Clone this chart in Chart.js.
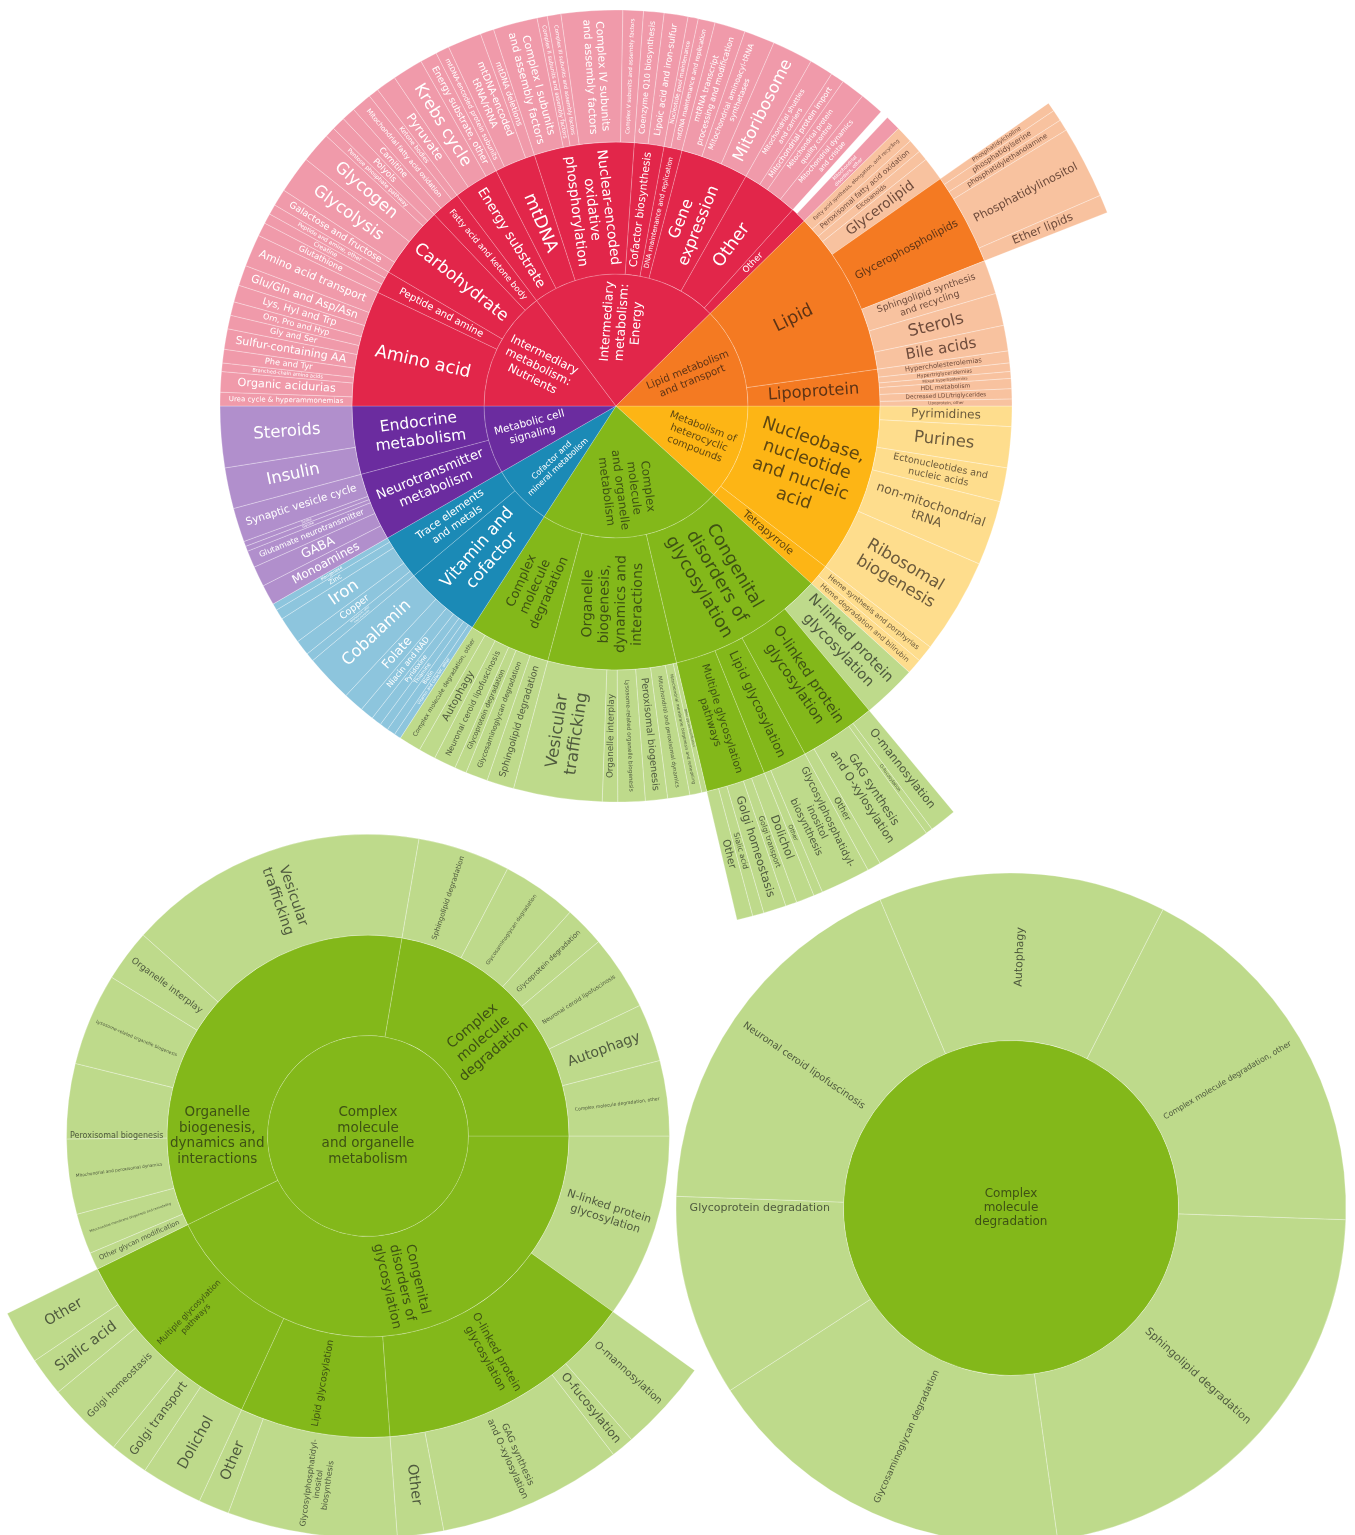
<!DOCTYPE html>
<html>
<head>
<meta charset="utf-8">
<script src="https://cdn.jsdelivr.net/npm/chart.js@4.4.1/dist/chart.umd.min.js"></script>
<style>
  html, body { margin: 0; padding: 0; background: #fff; overflow: hidden; }
  #page { position: relative; width: 1355px; height: 1535px; overflow: hidden; }
  canvas { position: absolute; }
</style>
</head>
<body>
<div id="page">
  <canvas id="main" width="1060" height="1060" style="left:86px;top:-124px"></canvas>
  <canvas id="organelle" width="810" height="810" style="left:-37px;top:731px"></canvas>
  <canvas id="degradation" width="680" height="680" style="left:671px;top:868px"></canvas>
</div>
<script>
// number of disorders per node (clockwise from 3 o'clock)
const groupNames = [
  'Metabolism of\nheterocyclic\ncompounds',
  'Complex\nmolecule\nand organelle\nmetabolism',
  'Cofactor and\nmineral metabolism',
  'Metabolic cell\nsignaling',
  'Intermediary\nmetabolism:\nNutrients',
  'Intermediary\nmetabolism:\nEnergy',
  'Lipid metabolism\nand transport'
];
const groupColors = ['amber', 'green', 'teal', 'purple', 'red', 'red', 'orange'];

const categoryNames = [
  'Nucleobase,\nnucleotide\nand nucleic\nacid', 'Tetrapyrrole',
  'Congenital\ndisorders of\nglycosylation', 'Organelle\nbiogenesis,\ndynamics and\ninteractions', 'Complex\nmolecule\ndegradation',
  'Vitamin and\ncofactor', 'Trace elements\nand metals',
  'Neurotransmitter\nmetabolism', 'Endocrine\nmetabolism',
  'Amino acid', 'Peptide and amine', 'Carbohydrate', 'Fatty acid and ketone body',
  'Energy substrate', 'mtDNA', 'Nuclear-encoded\noxidative\nphosphorylation', 'Cofactor biosynthesis',
  'DNA maintenance and replication', 'Gene\nexpression', 'Other', 'Other',
  'Lipid', 'Lipoprotein'
];
const categoryGroup = [0, 0, 1, 1, 1, 2, 2, 3, 3, 4, 4, 4, 4, 5, 5, 5, 5, 5, 5, 5, 5, 6, 6];

const subNames = [
  ['Pyrimidines', 'Purines', 'Ectonucleotides and\nnucleic acids', 'non-mitochondrial\ntRNA', 'Ribosomal\nbiogenesis'],
  ['Heme synthesis and porphyrias', 'Heme degradation and bilirubin'],
  ['N-linked protein\nglycosylation', 'O-linked protein\nglycosylation', 'Lipid glycosylation', 'Multiple glycosylation\npathways'],
  ['Other glycan modification', 'Mitochondrial membrane biogenesis and remodeling', 'Mitochondrial and peroxisomal dynamics',
   'Peroxisomal biogenesis', 'Lysosome-related organelle biogenesis', 'Organelle interplay', 'Vesicular\ntrafficking'],
  ['Sphingolipid degradation', 'Glycosaminoglycan degradation', 'Glycoprotein degradation',
   'Neuronal ceroid lipofuscinosis', 'Autophagy', 'Complex molecule degradation, other'],
  ['Vitamin and cofactor, other', 'Biotin', 'Thiamine', 'Pyridoxine', 'Niacin and NAD', 'Folate', 'Cobalamin'],
  ['Molybdenum, other\ntrace elements', 'Copper', 'Iron', 'Zinc', 'Manganese'],
  ['Monoamines', 'GABA', 'Glutamate neurotransmitter', 'Glycine', 'Serine', 'Synaptic vesicle cycle'],
  ['Insulin', 'Steroids'],
  ['Urea cycle & hyperammonemias', 'Organic acidurias', 'Branched-chain amino acids', 'Phe and Tyr',
   'Sulfur-containing AA', 'Gly and Ser', 'Orn, Pro and Hyp', 'Lys, Hyl and Trp', 'Glu/Gln and Asp/Asn', 'Amino acid transport'],
  ['Glutathione', 'Creatine', 'Peptide and amine, other'],
  ['Galactose and fructose', 'Glycolysis', 'Glycogen', 'Pentose phosphate pathway', 'Polyols'],
  ['Carnitine', 'Mitochondrial fatty acid oxidation', 'Ketone bodies'],
  ['Pyruvate', 'Krebs cycle', 'Energy substrate, other'],
  ['mtDNA-encoded protein subunits', 'mtDNA-encoded\ntRNA/rRNA', 'mtDNA deletions'],
  ['Complex I subunits\nand assembly factors', 'Complex II subunits and assembly factors',
   'Complex III subunits and assembly factors', 'Complex IV subunits\nand assembly factors', 'Complex V subunits and assembly factors'],
  ['Coenzyme Q10 biosynthesis', 'Lipoic acid and iron-sulfur'],
  ['Nucleotide pool maintenance', 'mtDNA maintenance and replication'],
  ['mtRNA transcript\nprocessing and modification', 'Mitochondrial aminoacyl-tRNA\nsynthetases', 'Mitoribosome'],
  ['Mitochondrial shuttles\nand carriers', 'Mitochondrial protein import', 'Mitochondrial protein\nquality control', 'Mitochondrial dynamics\nand cristae'],
  ['', 'Mitochondrial\ndisorders, other'],
  ['Fatty acid synthesis, elongation, and recycling', 'Peroxisomal fatty acid oxidation', 'Eicosanoids', 'Glycerolipid',
   'Glycerophospholipids', 'Sphingolipid synthesis\nand recycling', 'Sterols', 'Bile acids'],
  ['Hypercholesterolemias', 'Hypertriglyceridemias', 'Mixed hyperlipidemias', 'HDL metabolism',
   'Decreased LDL/triglycerides', 'Lipoprotein, other']
];
// null = sized by its own children below
const subCounts = [
  [12, 24, 20, 38, 56],
  [10, 9],
  [32, null, null, null],
  [3, 7, 13, 13, 16, 9, 52],
  [16, 13, 7, 13, 10, 13],
  [4, 5, 5, 6, 8, 12, 28],
  [5, 9, 16, 6, 4],
  [12, 12, 10, 3, 3, 20],
  [24, 36],
  [8, 12, 5, 8, 12, 8, 8, 10, 12, 19],
  [8, 6, 6],
  [10, 22, 18, 6, 8],
  [8, 12, 6],
  [12, 18, 10],
  [8, 20, 8],
  [26, 6, 8, 36, 12],
  [12, 14],
  [6, 10],
  [18, 18, 24],
  [14, 8, 14, 14],
  [5, 9],
  [10, 8, 6, 14, null, 20, 19, 15],
  [7, 5, 4, 6, 6, 4]
];

const detailParents = ['O-linked protein\nglycosylation', 'Lipid glycosylation', 'Multiple glycosylation\npathways', 'Glycerophospholipids'];
const detailNames = [
  ['O-mannosylation', 'O-fucosylation', 'GAG synthesis\nand O-xylosylation', 'Other'],
  ['Glycosylphosphatidyl-\ninositol\nbiosynthesis', 'Other'],
  ['Dolichol', 'Golgi transport', 'Golgi homeostasis', 'Sialic acid', 'Other'],
  ['Phosphatidylcholine', 'phosphatidylserine', 'phosphatidylethanolamine', 'Phosphatidylinositol', 'Ether lipids']
];
const detailCounts = [
  [12, 3, 24, 6],
  [22, 4],
  [8, 5, 10, 5, 7],
  [4, 5, 5, 32, 8]
];

const palette = {
  amber:  { dark: '#FDB515', light: '#FEDD8D', text: '#5e4611', textLight: '#6b5a3c' },
  green:  { dark: '#83B81A', light: '#BEDA8B', text: '#3e5114', textLight: '#4f5a3e' },
  teal:   { dark: '#1B8AB6', light: '#8DC5DD', text: '#ffffff', textLight: '#ffffff' },
  purple: { dark: '#6B2C9F', light: '#B18FCC', text: '#ffffff', textLight: '#ffffff' },
  red:    { dark: '#E2264A', light: '#F09AAA', text: '#ffffff', textLight: '#ffffff' },
  orange: { dark: '#F47A22', light: '#F8C29F', text: '#5d3315', textLight: '#6e4b3b' }
};
const FONT = '"DejaVu Sans", Verdana, sans-serif';

function buildTree() {
  const root = { name: '', group: 0, children: [] };
  groupNames.forEach((g, gi) => root.children.push({ name: g, group: gi, children: [] }));
  categoryNames.forEach((c, ci) => {
    const gi = categoryGroup[ci];
    const cat = { name: c, group: gi, children: [] };
    subNames[ci].forEach((s, si) => {
      const sub = { name: s, group: gi, value: subCounts[ci][si], children: [] };
      const di = detailParents.indexOf(s);
      if (di >= 0) {
        sub.children = detailNames[di].map((d, k) => ({ name: d, group: gi, value: detailCounts[di][k], children: [] }));
      }
      cat.children.push(sub);
    });
    root.children[gi].children.push(cat);
  });
  return root;
}

function total(n) {
  return n.children.length ? n.children.reduce((s, c) => s + total(c), 0) : n.value;
}

function findNode(n, name) {
  if (n.name === name) return n;
  for (const c of n.children) { const f = findNode(c, name); if (f) return f; }
  return null;
}

// rings from the centre outwards; leaves leave empty space further out
function ringsFor(root, withRoot, nLevels) {
  const rings = [];
  for (let k = 0; k < nLevels; k++) rings.push([]);
  function walk(n, d) {
    if (d >= 0) rings[d].push({ node: n, filler: false });
    if (n.children.length && d + 1 < nLevels) n.children.forEach(c => walk(c, d + 1));
    else for (let k = d + 1; k < nLevels; k++) rings[k].push({ node: n, filler: true });
  }
  walk(root, withRoot ? 0 : -1);
  return rings;
}

function isHidden(s) { return s.filler || s.node.name === ''; }

function ringDataset(ring) {
  return {
    data: ring.map(s => total(s.node)),
    backgroundColor: ring.map(s => {
      if (isHidden(s)) return 'rgba(0,0,0,0)';
      const p = palette[groupColors[s.node.group]];
      return s.node.children.length ? p.dark : p.light;
    }),
    borderColor: ring.map(s => s.node.children.length ? 'rgba(255,255,255,0.28)' : 'rgba(255,255,255,0.4)'),
    borderWidth: ring.map(s => (isHidden(s) || ring.length === 1) ? 0 : 0.7)
  };
}

function levelAngle(a0, a1, mid) {
  let best = mid, bestD = Infinity;
  for (let k = Math.ceil(a0 / Math.PI); k * Math.PI <= a1; k++) {
    const d = Math.abs(k * Math.PI - mid);
    if (d < bestD) { bestD = d; best = k * Math.PI; }
  }
  return best;
}

function drawLabel(ctx, p, text, color, maxFont, horizontal) {
  const lines = text.split('\n');
  ctx.font = '100px ' + FONT;
  const w100 = Math.max(...lines.map(l => ctx.measureText(l).width));
  const LH = 1.18;
  const span = p.endAngle - p.startAngle;
  let fs = 0, cx = p.x, cy = p.y, rot = 0;

  if (span > 6.28) {
    for (let f = maxFont; f >= 2; f -= 0.25) {
      if (f * w100 / 100 <= p.outerRadius * 1.7 && lines.length * LH * f <= p.outerRadius * 1.5) { fs = f; break; }
    }
  } else {
    const wedge = p.innerRadius < 1;
    const thick = p.outerRadius - p.innerRadius;
    let mid = (p.startAngle + p.endAngle) / 2;
    let rc = 0;
    for (let f = maxFont; f >= 1.5; f -= 0.25) {
      const w = f * w100 / 100;
      const h = lines.length * LH * f;
      let c, rIn;
      if (wedge) {
        const rOut = p.outerRadius * 0.94;
        if (w > p.outerRadius * 0.76) continue;
        c = rOut - w / 2; rIn = rOut - w;
      } else if (horizontal) {
        if (w > thick * 0.95) continue;
        fs = f; rc = p.innerRadius + thick / 2; break;
      } else {
        if (w > thick * 0.88) continue;
        c = p.innerRadius + thick / 2; rIn = c - w / 2;
      }
      if (span * rIn * 0.92 >= h) { fs = f; rc = c; break; }
    }
    if (horizontal) mid = levelAngle(p.startAngle, p.endAngle, mid);
    else rot = Math.cos(mid) >= 0 ? mid : mid + Math.PI;
    cx = p.x + Math.cos(mid) * rc;
    cy = p.y + Math.sin(mid) * rc;
  }
  if (fs < 1.5) return;

  ctx.save();
  ctx.translate(cx, cy);
  ctx.rotate(rot);
  ctx.font = fs + 'px ' + FONT;
  ctx.fillStyle = color;
  ctx.textAlign = 'center';
  ctx.textBaseline = 'middle';
  lines.forEach((l, j) => ctx.fillText(l, 0, (j - (lines.length - 1) / 2) * fs * LH));
  ctx.restore();
}

function drawSunburst(id, root, withRoot, nLevels, rotation, radius, maxFont, horizontal) {
  const rings = ringsFor(root, withRoot, nLevels).reverse();   // Chart.js draws dataset 0 outermost
  const fonts = maxFont.slice().reverse();
  new Chart(document.getElementById(id), {
    type: 'pie',
    data: { datasets: rings.map(ringDataset) },
    options: {
      responsive: false,
      animation: false,
      events: [],
      rotation: rotation,
      radius: radius,
      cutout: 0,
      plugins: { legend: { display: false }, tooltip: { enabled: false } }
    },
    plugins: [{
      id: 'sunburstLabels',
      afterDatasetsDraw(chart) {
        const ctx = chart.ctx;
        rings.forEach((ring, di) => {
          const meta = chart.getDatasetMeta(di);
          ring.forEach((s, i) => {
            if (isHidden(s)) return;
            const p = meta.data[i].getProps(['x', 'y', 'startAngle', 'endAngle', 'innerRadius', 'outerRadius'], true);
            const pal = palette[groupColors[s.node.group]];
            const color = s.node.children.length ? pal.text : pal.textLight;
            drawLabel(ctx, p, s.node.name, color, fonts[di], horizontal.includes(s.node.name));
          });
        });
      }
    }]
  });
}

const tree = buildTree();
drawSunburst('main', tree, false, 4, 90, 528, [12.5, 17.5, 16.5, 11.5], []);
drawSunburst('organelle', tree.children[1], true, 4, 90, 402, [13.5, 14, 14, 14.5],
  ['Organelle\nbiogenesis,\ndynamics and\ninteractions', 'Peroxisomal biogenesis']);
drawSunburst('degradation', findNode(tree, 'Complex\nmolecule\ndegradation'), true, 2, 92, 335, [12, 11],
  ['Glycoprotein degradation']);
</script>
</body>
</html>
